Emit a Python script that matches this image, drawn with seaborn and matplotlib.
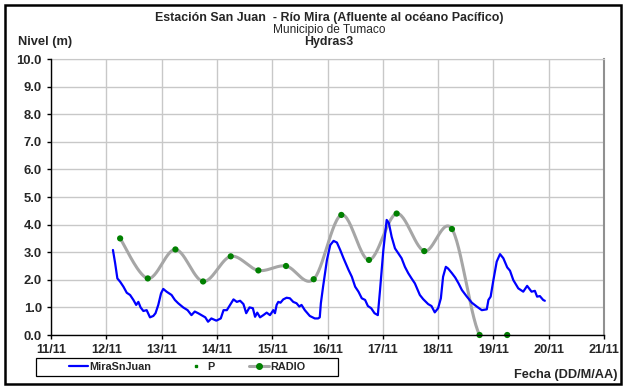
# Nivel del rio Mira - estacion San Juan
import numpy as np
import seaborn as sns
import matplotlib.pyplot as plt
from matplotlib.patches import Rectangle

# ------------- Datos -------------
# dias como numero decimal (12.5 = 12/11 a mediodia)
mira_dias = [12.12, 12.16, 12.2, 12.25, 12.31, 12.37, 12.43, 12.49, 12.54, 12.58,
             12.62, 12.67, 12.73, 12.79, 12.85, 12.89, 12.94, 12.99, 13.03, 13.09,
             13.18, 13.24, 13.3, 13.39, 13.47, 13.54, 13.6, 13.66, 13.72, 13.79,
             13.84, 13.9, 13.99, 14.07, 14.12, 14.18, 14.22, 14.3, 14.36, 14.42,
             14.48, 14.53, 14.59, 14.65, 14.69, 14.73, 14.78, 14.84, 14.9, 14.96,
             15.02, 15.05, 15.08, 15.11, 15.15, 15.2, 15.26, 15.32, 15.38, 15.44,
             15.49, 15.53, 15.59, 15.68, 15.77, 15.83, 15.86, 15.88, 15.92, 15.99,
             16.05, 16.11, 16.17, 16.23, 16.29, 16.38, 16.44, 16.5, 16.56, 16.62,
             16.68, 16.73, 16.79, 16.85, 16.91, 16.95, 17.01, 17.07, 17.11, 17.16,
             17.22, 17.28, 17.34, 17.4, 17.46, 17.52, 17.58, 17.67, 17.73, 17.82,
             17.88, 17.94, 18.0, 18.05, 18.09, 18.14, 18.18, 18.25, 18.31, 18.37,
             18.43, 18.52, 18.61, 18.7, 18.79, 18.88, 18.91, 18.95, 19.0, 19.06,
             19.12, 19.18, 19.25, 19.3, 19.36, 19.45, 19.54, 19.61, 19.69, 19.75,
             19.79, 19.84, 19.9, 19.93]
mira_nivel = [3.08, 2.6, 2.05, 1.93, 1.75, 1.53, 1.45, 1.27, 1.09, 1.2,
              1.0, 0.87, 0.9, 0.64, 0.69, 0.79, 1.09, 1.51, 1.67, 1.57,
              1.45, 1.27, 1.15, 1.0, 0.9, 0.72, 0.85, 0.79, 0.72, 0.64,
              0.48, 0.6, 0.52, 0.6, 0.9, 0.9, 1.03, 1.29, 1.2, 1.24,
              1.12, 0.79, 1.0, 0.97, 0.66, 0.81, 0.64, 0.72, 0.81, 0.72,
              0.9, 0.79, 1.09, 1.2, 1.17, 1.29, 1.35, 1.33, 1.2, 1.15,
              1.03, 1.09, 0.9, 0.69, 0.6, 0.6, 0.64, 1.15, 1.75, 2.72,
              3.26, 3.41, 3.35, 3.08, 2.78, 2.36, 2.11, 1.75, 1.57, 1.33,
              1.27, 1.05, 0.97, 0.79, 0.72, 1.63, 3.08, 4.17, 4.05, 3.56,
              3.14, 2.96, 2.78, 2.47, 2.24, 2.05, 1.87, 1.45, 1.3, 1.12,
              1.05, 0.82, 0.97, 1.33, 2.11, 2.47, 2.41, 2.24, 2.08, 1.87,
              1.63, 1.39, 1.17, 1.03, 0.9, 0.93, 1.27, 1.39, 1.99, 2.66,
              2.93, 2.78, 2.45, 2.33, 1.99, 1.69, 1.57, 1.78, 1.57, 1.6,
              1.39, 1.41, 1.27, 1.24]

radio_dias = [12.25, 12.75, 13.25, 13.75, 14.25, 14.75, 15.25, 15.75,
              16.25, 16.75, 17.25, 17.75, 18.25, 18.75, 19.25]
radio_nivel = [3.5, 2.05, 3.1, 1.94, 2.85, 2.34, 2.5, 2.02,
               4.35, 2.72, 4.4, 3.04, 3.84, 0.0, 0.0]

dias_ticks = list(range(11, 22))
etiquetas_x = ["%d/11" % d for d in dias_ticks]
niveles_ticks = list(range(0, 11))
etiquetas_y = ["%.1f" % v for v in niveles_ticks]


def suavizar(x, y, n=30):
    # curva suavizada tipo Excel (Catmull-Rom)
    x = np.asarray(x, float)
    y = np.asarray(y, float)
    px = np.concatenate([[x[0]], x, [x[-1]]])
    py = np.concatenate([[y[0]], y, [y[-1]]])
    xs, ys = [], []
    t = np.linspace(0, 1, n)
    for i in range(1, len(px) - 2):
        p0, p1, p2, p3 = px[i - 1], px[i], px[i + 1], px[i + 2]
        q0, q1, q2, q3 = py[i - 1], py[i], py[i + 1], py[i + 2]
        c1x, c1y = p1 + (p2 - p0) / 6, q1 + (q2 - q0) / 6
        c2x, c2y = p2 - (p3 - p1) / 6, q2 - (q3 - q1) / 6
        b = [(1 - t) ** 3, 3 * (1 - t) ** 2 * t, 3 * (1 - t) * t ** 2, t ** 3]
        xs.extend(b[0] * p1 + b[1] * c1x + b[2] * c2x + b[3] * p2)
        ys.extend(b[0] * q1 + b[1] * c1y + b[2] * c2y + b[3] * q2)
    return np.array(xs), np.array(ys)


if __name__ == "__main__":
    sns.set_style("white")
    plt.rcParams['font.family'] = ['Liberation Sans', 'DejaVu Sans']

    fig = plt.figure(figsize=(6.27, 3.86), dpi=100)
    ax = fig.add_axes([51 / 627, 1 - 335 / 386, 553 / 627, 276 / 386])

    # lineas del grafico
    sns.lineplot(x=mira_dias, y=mira_nivel, ax=ax, color="#0000ff", lw=1.6,
                 label="MiraSnJuan", zorder=3)
    ax.plot([], [], ls="none", marker="s", ms=2, color="#008000", label="P")
    sx, sy = suavizar(radio_dias, radio_nivel)
    sns.lineplot(x=sx, y=sy, ax=ax, color="#a6a6a6", lw=2.2, sort=False,
                 estimator=None, zorder=2)
    sns.scatterplot(x=radio_dias, y=radio_nivel, ax=ax, color="#008000", s=20,
                    edgecolor="none", zorder=4, clip_on=False)
    ax.plot([], [], color="#a6a6a6", lw=2.2, marker="o", ms=4,
            markerfacecolor="#008000", markeredgecolor="#008000", label="RADIO")

    ax.set_xlim(11, 21)
    ax.set_ylim(0, 10)
    ax.set_xticks(dias_ticks)
    ax.set_xticklabels(etiquetas_x, fontweight="bold", fontsize=9.2)
    ax.set_yticks(niveles_ticks)
    ax.set_yticklabels(etiquetas_y, fontweight="bold", fontsize=9.4)
    ax.grid(True, color="#c8c8c8", lw=1)
    ax.set_axisbelow(True)
    ax.tick_params(axis="both", direction="out", length=3, width=1,
                   color="black", pad=3.5, bottom=True, left=True)
    for lado in ["left", "bottom"]:
        ax.spines[lado].set_color("black")
        ax.spines[lado].set_linewidth(1)
        ax.spines[lado].set_zorder(5)
    ax.spines["top"].set_color("#c8c8c8")
    ax.spines["right"].set_color("#909090")
    ax.spines["right"].set_linewidth(1.5)
    ax.set_xlabel("")
    ax.set_ylabel("")

    # leyenda (marco dibujado aparte, entradas centradas)
    handles, labels = ax.get_legend_handles_labels()
    orden = [labels.index(k) for k in ["MiraSnJuan", "P", "RADIO"]]
    ley = ax.legend([handles[i] for i in orden], [labels[i] for i in orden],
                    ncol=3, loc="center",
                    bbox_to_anchor=(187 / 627, 1 - 367 / 386),
                    bbox_transform=fig.transFigure, frameon=False,
                    borderpad=0, handlelength=1.8, handletextpad=0.15,
                    columnspacing=3.2, prop={"weight": "bold", "size": 7.8},
                    borderaxespad=0)
    fig.patches.append(Rectangle((36 / 627, 1 - 376 / 386), 302 / 627, 18 / 386,
                                 transform=fig.transFigure, fill=False,
                                 edgecolor="black", lw=0.9))

    # textos
    fig.text(0.525, 1 - 18 / 386, "Estación San Juan  - Río Mira (Afluente al océano Pacífico)",
             ha="center", va="center", fontweight="bold", fontsize=8.9)
    fig.text(0.525, 1 - 30 / 386, "Municipio de Tumaco", ha="center", va="center",
             fontsize=8.6)
    fig.text(0.525, 1 - 42.5 / 386, "Hydras3", ha="center", va="center",
             fontweight="bold", fontsize=8.9)
    fig.text(45 / 627, 1 - 42 / 386, "Nivel (m)", ha="center", va="center",
             fontweight="bold", fontsize=9.3)
    fig.text(618 / 627, 1 - 375 / 386, "Fecha (DD/M/AA)", ha="right", va="center",
             fontweight="bold", fontsize=9.2)

    # marco exterior
    fig.patches.append(Rectangle((5 / 627, 2 / 386), 616 / 627, 379 / 386,
                                 transform=fig.transFigure, fill=False,
                                 edgecolor="black", lw=1.8))

    fig.savefig("out.png", dpi=100)
